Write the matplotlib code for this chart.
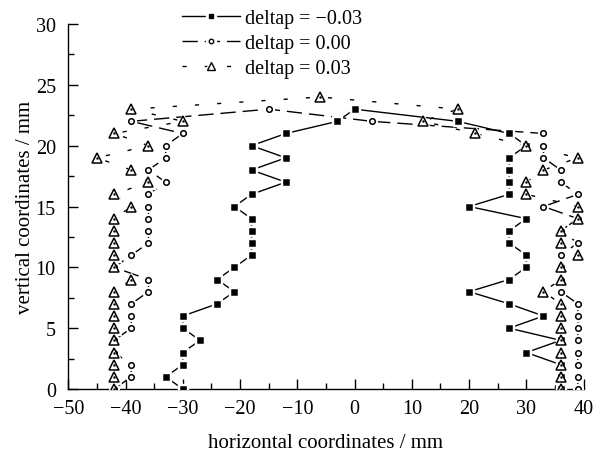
import matplotlib
matplotlib.use("Agg")
import matplotlib.pyplot as plt
from matplotlib.lines import Line2D
from matplotlib.legend_handler import HandlerTuple

plt.rcParams['font.family'] = ['Liberation Serif', 'DejaVu Serif']
plt.rcParams['font.size'] = 14.5

# each series: left side bottom->top, across the top, right side top->bottom
y_m003 = [0, 1, 2, 3, 4, 5, 6, 7, 8, 9, 10, 11, 12, 13, 14, 15, 16, 17, 18, 19, 20, 21, 22, 23,
          22, 21, 20, 19, 18, 17, 16, 15, 14, 13, 12, 11, 10, 9, 8, 7, 6, 5, 4, 3, 2, 1, 0]
x_m003 = [-30, -33, -30, -30, -27, -30, -30, -24, -21, -24, -21, -18, -18, -18, -18, -21, -18, -12, -18, -12, -18, -12, -3, 0,
          18, 27, 30, 27, 27, 27, 27, 20, 30, 27, 27, 30, 30, 27, 20, 27, 33, 27, 36, 30, 36, 36, 36]

y_000 = [0, 1, 2, 3, 4, 5, 6, 7, 8, 9, 10, 11, 12, 13, 14, 15, 16, 17, 18, 19, 20, 21, 22, 23,
         22, 21, 20, 19, 18, 17, 16, 15, 14, 13, 12, 11, 10, 9, 8, 7, 6, 5, 4, 3, 2, 1, 0]
x_000 = [-42, -39, -39, -42, -42, -39, -39, -39, -36, -36, -42, -39, -36, -36, -36, -36, -36, -33, -36, -33, -33, -30, -39, -15,
         3, 33, 33, 33, 36, 36, 39, 33, 39, 36, 39, 36, 36, 36, 36, 39, 39, 39, 39, 39, 39, 39, 39]

y_p003 = [0, 1, 2, 3, 4, 5, 6, 7, 8, 9, 10, 11, 12, 13, 14, 15, 16, 17, 18, 19, 20, 21, 22, 23, 24,
          23, 22, 21, 20, 19, 18, 17, 16, 15, 14, 13, 12, 11, 10, 9, 8, 7, 6, 5, 4, 3, 2, 1, 0]
x_p003 = [-42, -42, -42, -42, -42, -42, -42, -42, -42, -39, -42, -42, -42, -42, -42, -39, -42, -36, -39, -45, -36, -42, -30, -39, -6,
          18, 12, 21, 30, 39, 33, 30, 30, 39, 39, 36, 36, 39, 36, 36, 33, 36, 36, 36, 36, 36, 36, 36, 36]

labels = ['deltap = \u22120.03', 'deltap = 0.00', 'deltap = 0.03']

fig = plt.figure(figsize=(5.95, 4.56), dpi=100)
ax = fig.add_axes([0.1148, 0.1447, 0.866, 0.8005])

styles = [
    dict(x=x_m003, y=y_m003, marker='s', ms=3.6, mfc='black', dashes=(None, None)),
    dict(x=x_000, y=y_000, marker='o', ms=4, mfc='white', dashes=(11, 5)),
    dict(x=x_p003, y=y_p003, marker='^', ms=6.5, mfc='white', dashes=(3, 13)),
]

handles = []
for st in styles:
    line, = ax.plot(st['x'], st['y'], color='black', lw=1.0, zorder=2)
    if st['dashes'][0] is not None:
        line.set_dashes(st['dashes'])
    ax.plot(st['x'], st['y'], ls='none', marker=st['marker'], ms=st['ms'] + 3,
            mfc='white', mec='white', zorder=3)
    ax.plot(st['x'], st['y'], ls='none', marker=st['marker'], ms=st['ms'],
            mfc=st['mfc'], mec='black', mew=1.1, zorder=4)
    if st['marker'] == '^':
        ax.plot(st['x'], st['y'], ls='none', marker='.', ms=1.5, color='black', zorder=5)

    h_line = Line2D([], [], color='black', lw=1.0)
    if st['dashes'][0] is not None:
        h_line.set_dashes(st['dashes'])
    h_halo = Line2D([], [], ls='none', marker=st['marker'], ms=st['ms'] + 3, mfc='white', mec='white')
    h_mark = Line2D([], [], ls='none', marker=st['marker'], ms=st['ms'] * 0.8,
                    mfc=st['mfc'], mec='black', mew=1.0)
    handles.append((h_line, h_halo, h_mark))

ax.set_xlim(-50, 40)
ax.set_ylim(0, 30)
ax.set_xticks([-50, -40, -30, -20, -10, 0, 10, 20, 30, 40])
ax.set_xticks([-45, -35, -25, -15, -5, 5, 15, 25, 35], minor=True)
ax.set_yticks([0, 5, 10, 15, 20, 25, 30])
ax.set_yticks([2.5, 7.5, 12.5, 17.5, 22.5, 27.5], minor=True)
ax.tick_params(which='both', direction='in', width=1.0)
ax.tick_params(which='major', length=7)
ax.tick_params(which='minor', length=4)
ax.tick_params(axis='x', which='major', pad=7)
ax.tick_params(axis='y', which='major', pad=9)
ax.spines['top'].set_visible(False)
ax.spines['right'].set_visible(False)
for s in ['left', 'bottom']:
    ax.spines[s].set_linewidth(1.0)

ax.set_xlabel('horizontal coordinates / mm', fontsize=15)
ax.xaxis.set_label_coords(0.5, -0.12)
ax.set_ylabel('vertical coordinates / mm', fontsize=15)
ax.yaxis.set_label_coords(-0.065, 0.5)

ax.legend(handles, labels, handler_map={tuple: HandlerTuple(ndivide=1)},
          loc='upper left', bbox_to_anchor=(0.283, 1.01), bbox_transform=fig.transFigure,
          frameon=False, handlelength=2.85, handletextpad=0.25, labelspacing=0.3,
          borderpad=0.2)

fig.savefig('out.png', dpi=100)
